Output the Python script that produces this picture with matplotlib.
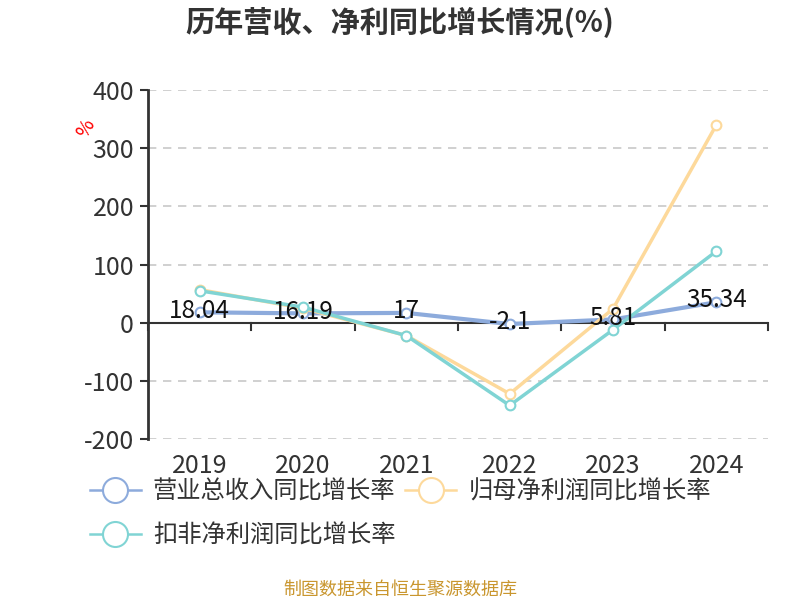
import matplotlib
matplotlib.use('Agg')
import matplotlib.pyplot as plt
from matplotlib.lines import Line2D

plt.rcParams['font.family'] = ['Noto Sans CJK SC', 'DejaVu Sans']
plt.rcParams['axes.unicode_minus'] = False

years = ['2019', '2020', '2021', '2022', '2023', '2024']
revenue_yoy = [18.04, 16.19, 17, -2.1, 5.81, 35.34]
parent_profit_yoy = [57, 25, -22, -122, 24, 340]
deducted_profit_yoy = [55, 27, -22, -142, -12, 123]
series_names = ['营业总收入同比增长率', '归母净利润同比增长率', '扣非净利润同比增长率']
colors = ['#8dabdc', '#fdd99b', '#80d4d4']

fig = plt.figure(figsize=(8, 6), dpi=100)
ax = fig.add_axes([0.185, 0.268, 0.775, 0.582])

x = list(range(len(years)))
for vals, c, lw in zip([revenue_yoy, parent_profit_yoy, deducted_profit_yoy], colors, [3, 2.5, 2.5]):
    ax.plot(x, vals, color=c, lw=lw, marker='o', markersize=7, markerfacecolor='white',
            markeredgecolor=c, markeredgewidth=1.5, zorder=3, clip_on=False)

for xi, v in zip(x, revenue_yoy):
    ax.text(xi, v + 3, f"{v:g}", ha='center', va='center', fontsize=17.5, color='#111111', zorder=5)

ax.set_xlim(-0.5, len(years) - 0.5)
ax.set_ylim(-200, 400)
ax.set_yticks([-200, -100, 0, 100, 200, 300, 400])
ax.tick_params(axis='y', labelsize=18, colors='#333333', length=6, width=1.5, pad=4)
ax.yaxis.grid(True, linestyle=(0, (5, 4)), color='#c8c8c8', lw=1.2)
ax.set_axisbelow(True)

for s in ['top', 'right', 'bottom']:
    ax.spines[s].set_visible(False)
ax.spines['left'].set_color('#333333')
ax.spines['left'].set_linewidth(2)

# x axis line at zero with boundary ticks
ax.axhline(0, color='#333333', lw=1.5, zorder=2)
for b in [i + 0.5 for i in range(-1, len(years))]:
    ax.plot([b, b], [0, -12], color='#333333', lw=1.5, zorder=2, clip_on=False)
ax.set_xticks(x)
ax.set_xticklabels(years, fontsize=18, color='#333333')
ax.tick_params(axis='x', length=0, pad=10)

fig.text(0.107, 0.785, '%', color='red', fontsize=14, rotation=60, ha='center', va='center')

fig.text(0.5, 0.962, '历年营收、净利同比增长情况(%)', ha='center', va='center',
         fontsize=21, fontweight='bold', color='#333333')

handles = [Line2D([0], [0], color=c, lw=1.8, marker='o', markersize=18,
                  markerfacecolor='white', markeredgecolor=c, markeredgewidth=1.5) for c in colors]
fig.legend(handles[:2], series_names[:2], loc='center left', bbox_to_anchor=(0.1, 0.18),
           ncol=2, frameon=False, fontsize=17.5, handlelength=2.1, columnspacing=0.4,
           handletextpad=0.5, labelcolor='#333333', borderaxespad=0)
fig.legend(handles[2:], series_names[2:], loc='center left', bbox_to_anchor=(0.1, 0.108),
           frameon=False, fontsize=17.5, handlelength=2.1, handletextpad=0.5,
           labelcolor='#333333', borderaxespad=0)

fig.text(0.5, 0.017, '制图数据来自恒生聚源数据库', ha='center', va='center', fontsize=13, color='#c9962e')

fig.savefig('out.png', dpi=100)
